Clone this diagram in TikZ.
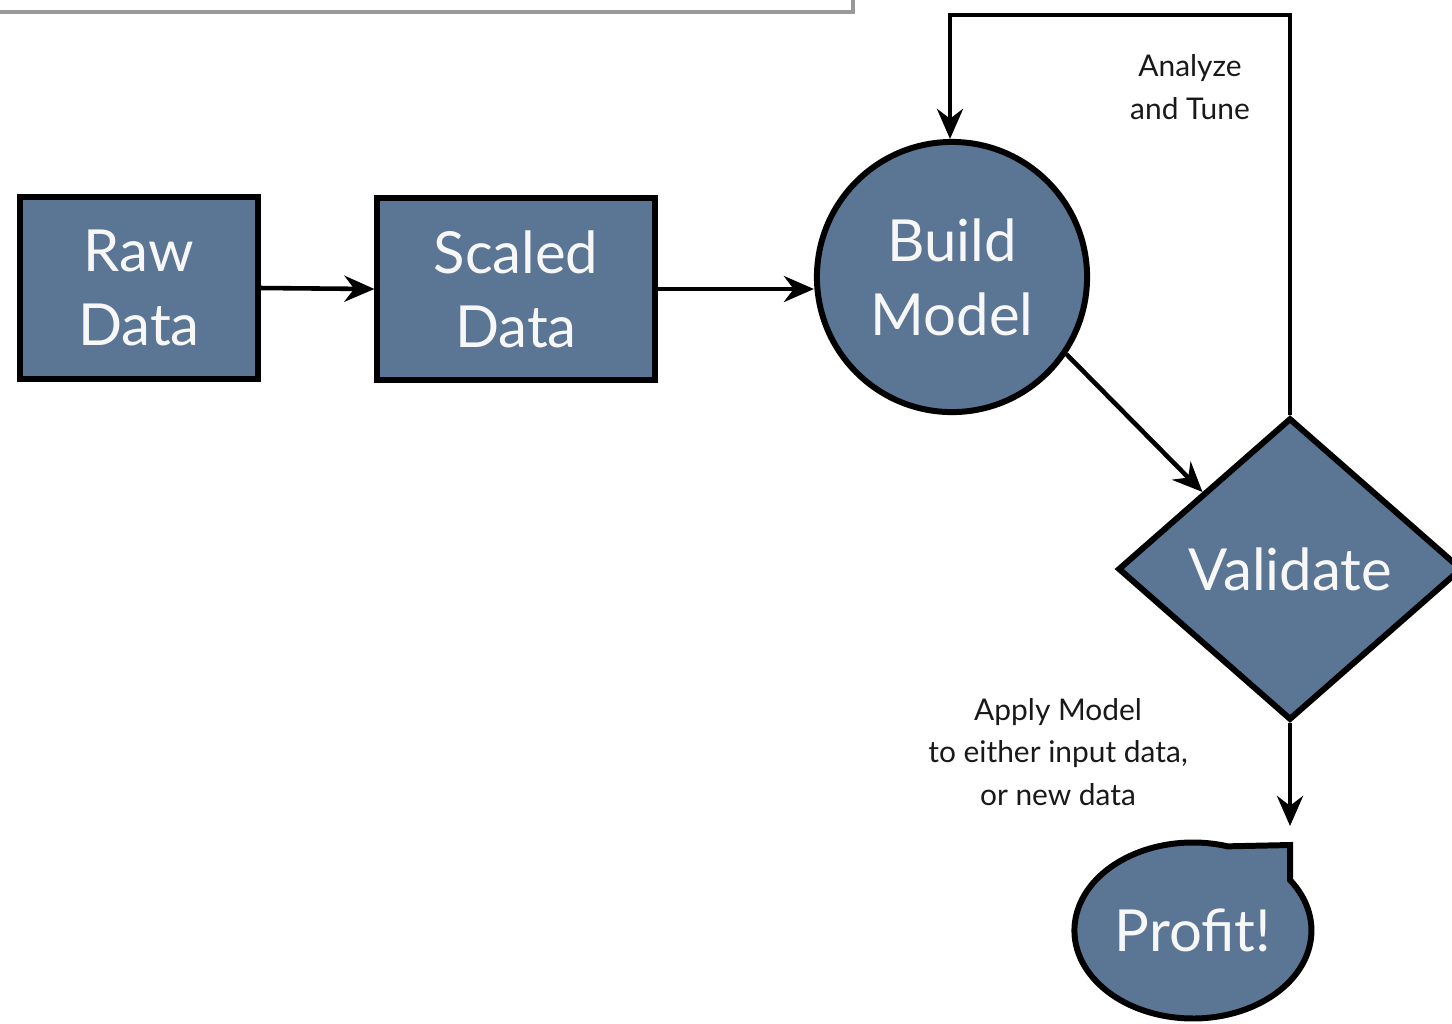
\documentclass[tikz,border=0pt]{standalone}
\usepackage{fontspec}
\setmainfont{Lato}
\usetikzlibrary{shapes.geometric, arrows.meta, positioning}
\definecolor{slate}{RGB}{91,117,148}

\begin{document}
\begin{tikzpicture}[x=0.01cm, y=-0.01cm,
  stage/.style={draw=black, line width=1.7pt, fill=slate, text=white!94!gray, align=center, font=\fontsize{16.5}{21}\selectfont, inner sep=0pt},
  box/.style={stage, rectangle, minimum width=#1, minimum height=1.81cm},
  flow/.style={line width=1.3pt, -{Stealth[length=3mm, width=2.6mm]}},
  note/.style={font=\fontsize{8.5}{12}\selectfont, text=black!90, align=center}
]
\useasboundingbox (0,0) rectangle (1452,1023);

% Frame left over at the top
\draw[black!40, line width=1pt] (0,12) -| (853,0);

% Stages
\node[box=2.38cm] (raw) at (139,288) {Raw\\Data};
\node[box=2.77cm] (scaled) at (516,289) {Scaled\\Data};
\node[stage, circle, minimum size=2.7cm] (build) at (952,277) {Build\\Model};
\node[stage, diamond, minimum width=3.44cm, minimum height=3.02cm] (val) at (1290,569) {Validate};

% Profit bubble
\draw[fill=slate, line width=1.7pt] (1290,880) arc[start angle=-35, end angle=287, x radius=118.5, y radius=88] -- (1290,845) -- cycle;
\node[stage, ellipse, draw=none, fill=none, minimum width=2.37cm, minimum height=1.76cm] (profit) at (1193,930) {Profit!};

% Labels
\node[note] (tune) at (1190,87) {Analyze\\and Tune};
\node[note] (apply) at (1058,752) {Apply Model\\to either input data,\\or new data};

% Flow
\coordinate (loopL) at (950,15);
\coordinate (tailtop) at (1290,826);
\draw[flow] (raw.east) -- (scaled.west);
\draw[flow] (scaled.east) -- (scaled.east -| build.west);
\draw[flow] (build.-34) -- (val.north west);
\draw[flow] (val.north) |- (loopL) -- (loopL |- build.north);
\draw[flow] (val.south) -- (tailtop);

\end{tikzpicture}
\end{document}
